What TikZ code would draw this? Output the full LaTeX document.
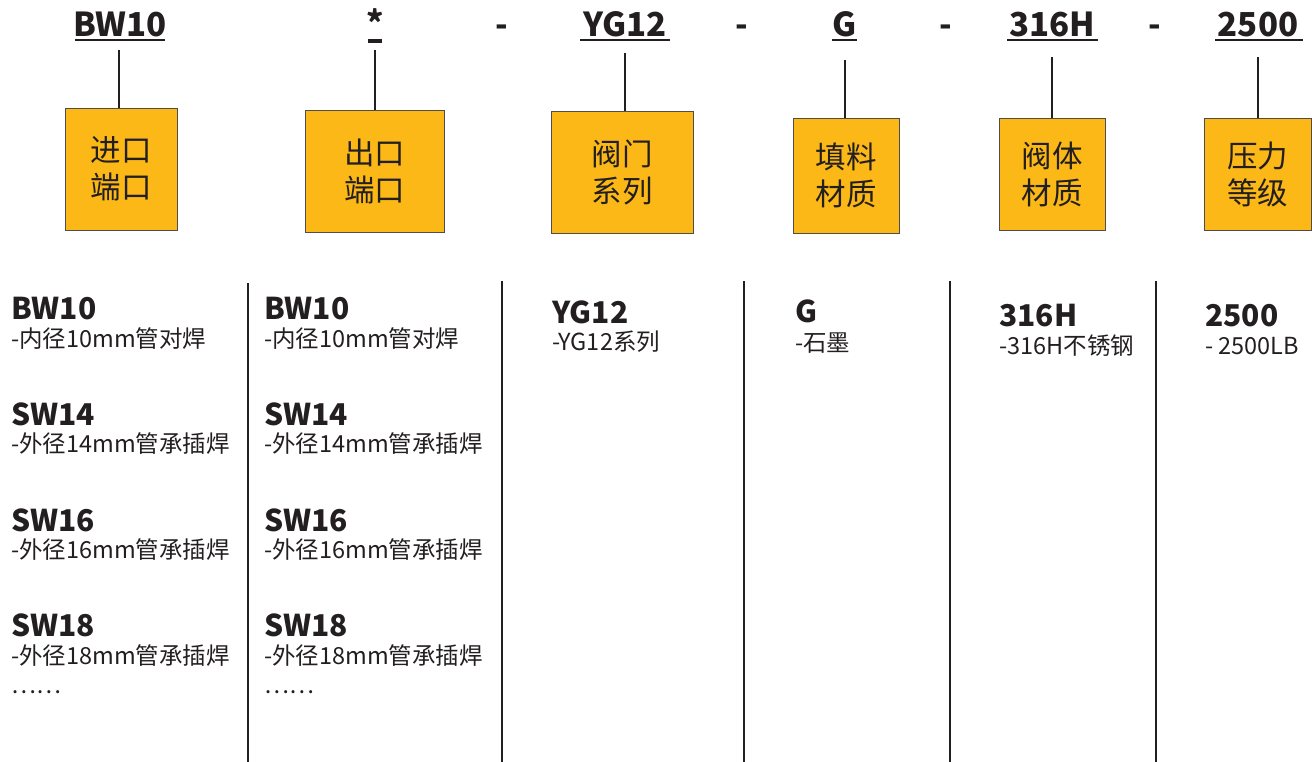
\documentclass[tikz,border=0pt]{standalone}
\usepackage{fontspec}
\setmainfont{Noto Sans CJK SC}
\definecolor{boxfill}{HTML}{FBB817}
\definecolor{ink}{HTML}{231F20}
\tikzset{
  hdr/.style={font=\fontsize{33}{36}\selectfont\bfseries, text=ink, inner sep=0pt, anchor=base},
  boxnode/.style={draw=ink!80, line width=0.8pt, fill=boxfill, text=ink, inner sep=0pt, align=center,
    font=\fontsize{30.5}{37}\selectfont},
  conn/.style={draw=ink, line width=1.3pt},
  uline/.style={draw=ink, line width=2pt},
  sep/.style={draw=ink, line width=2pt},
  ttl/.style={font=\fontsize{30}{34}\selectfont\bfseries, text=ink, inner sep=0pt, anchor=base west},
  sub/.style={font=\fontsize{23.5}{26}\selectfont, text=ink, inner sep=0pt, anchor=base west},
}
\begin{document}
\begin{tikzpicture}[x=1pt,y=-1pt]
\useasboundingbox (0,0) rectangle (1312,762);
% header
\node[hdr] (h1) at (120,37) {BW10};
\node[hdr] (h2) at (375,36) {*};
\node[hdr] (d1) at (502,37) {-};
\node[hdr] (h3) at (625,37) {YG12};
\node[hdr] (d2) at (742,37) {-};
\node[hdr] (h4) at (845,37) {G};
\node[hdr] (d3) at (946,37) {-};
\node[hdr] (h5) at (1052,37) {316H};
\node[hdr] (d4) at (1155,37) {-};
\node[hdr] (h6) at (1258,37) {2500};
% underlines
\draw[uline] (75,40) -- (165,40);
\draw[uline, line width=4pt] (368,41.5) -- (382,41.5);
\draw[uline] (580,40) -- (670,40);
\draw[uline] (832,40) -- (857,40);
\draw[uline] (1007,40) -- (1098,40);
\draw[uline] (1215,40) -- (1303,40);
% boxes
\node[boxnode, minimum width=112pt, minimum height=122pt] (b1) at (121,169) {进口\\端口};
\node[boxnode, minimum width=139pt, minimum height=122pt] (b2) at (374.5,171) {出口\\端口};
\node[boxnode, minimum width=142pt, minimum height=122pt] (b3) at (622,172) {阀门\\系列};
\node[boxnode, minimum width=106pt, minimum height=115pt] (b4) at (846,175.5) {填料\\材质};
\node[boxnode, minimum width=106pt, minimum height=112pt] (b5) at (1052,174) {阀体\\材质};
\node[boxnode, minimum width=107pt, minimum height=112pt] (b6) at (1257.5,174) {压力\\等级};
% connectors
\coordinate (c1) at (119,50);
\coordinate (c2) at (375,50);
\coordinate (c3) at (625,53);
\coordinate (c4) at (845,60);
\coordinate (c5) at (1052,57);
\coordinate (c6) at (1258,57);
\draw[conn] (c1) -- (c1 |- b1.north);
\draw[conn] (c2) -- (c2 |- b2.north);
\draw[conn] (c3) -- (c3 |- b3.north);
\draw[conn] (c4) -- (c4 |- b4.north);
\draw[conn] (c5) -- (c5 |- b5.north);
\draw[conn] (c6) -- (c6 |- b6.north);
% separators
\draw[sep] (248,283) -- (248,762);
\draw[sep] (502,281) -- (502,762);
\draw[sep] (744,281) -- (744,762);
\draw[sep] (950,281) -- (950,762);
\draw[sep] (1156,281) -- (1156,762);
% column 1 and 2
\foreach \xx/\cc in {11/a,264/b}{
  \node[ttl] (t1\cc) at (\xx,319) {BW10};
  \node[sub] (s1\cc) at (\xx,347) {-内径10mm管对焊};
  \node[ttl] (t2\cc) at (\xx,425) {SW14};
  \node[sub] (s2\cc) at (\xx,452) {-外径14mm管承插焊};
  \node[ttl] (t3\cc) at (\xx,531) {SW16};
  \node[sub] (s3\cc) at (\xx,558) {-外径16mm管承插焊};
  \node[ttl] (t4\cc) at (\xx,636) {SW18};
  \node[sub] (s4\cc) at (\xx,664) {-外径18mm管承插焊};
  \node[sub] (e\cc) at (\xx,693) {……};
}
\node[ttl] (t3) at (552,323) {YG12};
\node[sub] (s3) at (552,350) {-YG12系列};
\node[ttl] (t4) at (795,322) {G};
\node[sub] (s4) at (795,351) {-石墨};
\node[ttl] (t5) at (999,326) {316H};
\node[sub] (s5) at (999,354) {-316H不锈钢};
\node[ttl] (t6) at (1205,326) {2500};
\node[sub] (s6) at (1205,354) {- 2500LB};
\end{tikzpicture}
\end{document}
